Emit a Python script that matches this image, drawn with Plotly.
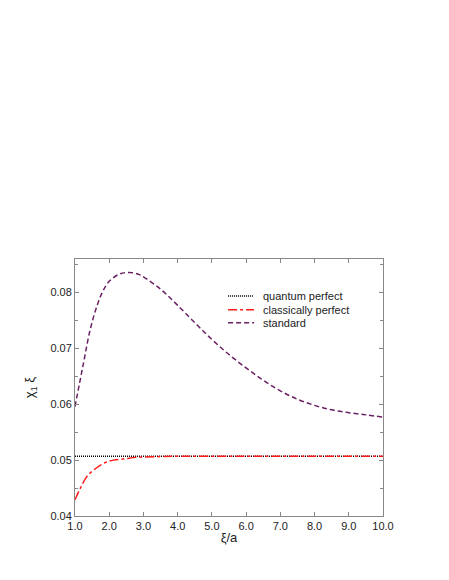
import plotly.graph_objects as go

# values
xi_std = [1.0, 1.24, 1.43, 1.62, 1.81, 2.0, 2.3, 2.59, 2.88, 3.0, 3.5, 4.0, 4.5,
          5.0, 5.5, 6.0, 6.5, 7.0, 7.5, 8.0, 8.5, 9.0, 9.5, 10.0]
chi_std = [0.0596, 0.0671, 0.0730, 0.0772, 0.0802, 0.0820, 0.0833, 0.0836, 0.0832,
           0.0828, 0.0806, 0.0777, 0.0746, 0.0716, 0.0689, 0.0665, 0.0643, 0.0624,
           0.0609, 0.0598, 0.0590, 0.0585, 0.0581, 0.0577]

xi_cl = [1.0, 1.15, 1.34, 1.54, 1.83, 2.12, 2.41, 2.8, 3.3, 4.0, 6.0, 8.0, 10.0]
chi_cl = [0.0429, 0.0449, 0.0470, 0.0482, 0.0494, 0.0500, 0.0502, 0.0505, 0.0506,
          0.0507, 0.0507, 0.0507, 0.0507]

xi_q = [1.0, 10.0]
chi_q = [0.0507, 0.0507]

names = ["quantum perfect", "classically perfect", "standard"]
colors = ["black", "#ff1a1a", "#6b2063"]
dashes = ["1px,1px", "dashdot", "5px,3px"]

font = "Liberation Sans, Arial, sans-serif"

fig = go.Figure()
series = [(xi_q, chi_q), (xi_cl, chi_cl), (xi_std, chi_std)]
for (xs, ys), name, c, d in zip(series, names, colors, dashes):
    fig.add_trace(go.Scatter(x=xs, y=ys, mode="lines", name=name,
                             line=dict(color=c, width=1.5, dash=d, shape="spline")))

# hand-made legend to get the tight spacing of the original
leg_y = [0.856, 0.803, 0.752]
for name, c, d, y in zip(names, colors, dashes, leg_y):
    fig.add_shape(type="line", xref="paper", yref="paper", x0=0.497, x1=0.581,
                  y0=y, y1=y, line=dict(color=c, width=1.5, dash=d))
    fig.add_annotation(text=name, xref="paper", yref="paper", x=0.604, y=y,
                       xanchor="left", yanchor="middle", showarrow=False,
                       font=dict(size=11, color="#222"))

fig.update_layout(
    width=449, height=580,
    margin=dict(l=67, r=74, t=251, b=72),
    plot_bgcolor="white", paper_bgcolor="white",
    font=dict(family=font, size=11, color="#222"),
    showlegend=False,
)
fig.update_xaxes(range=[1, 10], dtick=1, tickformat=".1f", ticks="inside", ticklen=4,
                 tickcolor="#888", showline=True, linecolor="#888", linewidth=1,
                 mirror="ticks", showgrid=False, zeroline=False, automargin=False,
                 title=dict(text="ξ/a", standoff=1))
fig.update_yaxes(range=[0.04, 0.086], tick0=0.04, dtick=0.01, tickformat=".2f",
                 ticks="inside", ticklen=4, tickcolor="#888",
                 minor=dict(dtick=0.005, ticks="inside", ticklen=3, tickcolor="#888"),
                 showline=True, linecolor="#888", linewidth=1, mirror="ticks",
                 showgrid=False, zeroline=False, automargin=False,
                 title=dict(text="χ<sub>1</sub> ξ", standoff=12))

fig.write_html("out.html")
